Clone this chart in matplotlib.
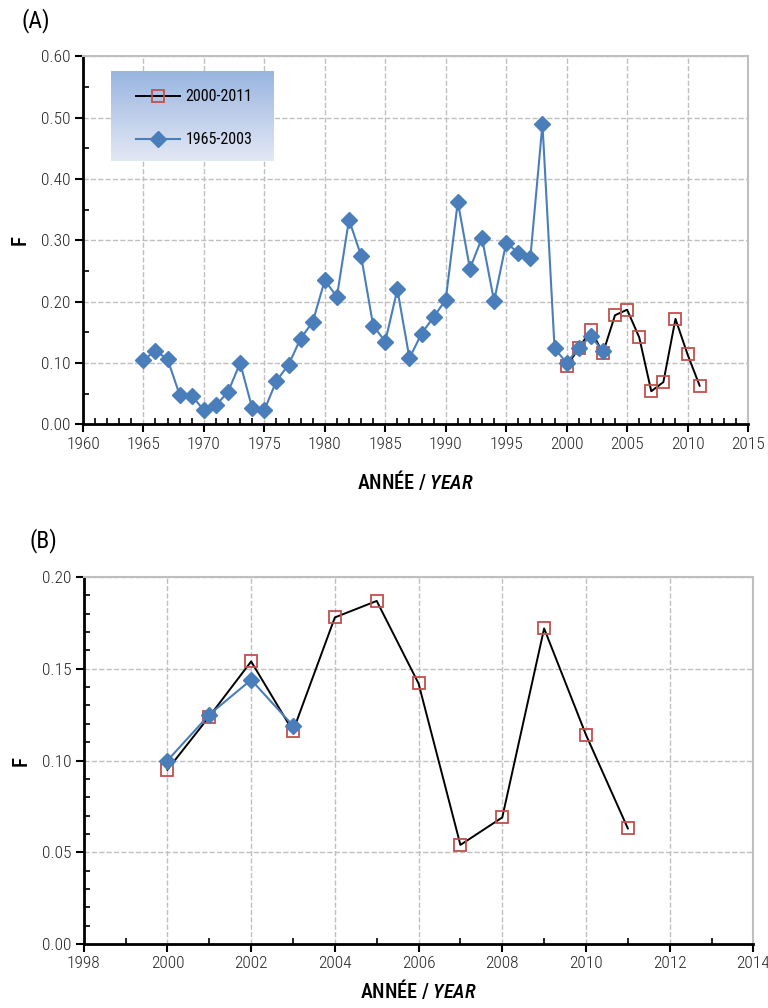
import numpy as np
import matplotlib
matplotlib.use("Agg")
import matplotlib.pyplot as plt
from matplotlib import font_manager
from matplotlib.ticker import MultipleLocator, FormatStrFormatter

# pick a narrow sans if one is around
family = 'Liberation Sans'
for cand in ['Roboto Condensed', 'Liberation Sans Narrow', 'Liberation Sans']:
    try:
        font_manager.findfont(cand, fallback_to_default=False)
        family = cand
        break
    except Exception:
        pass

plt.rcParams['font.family'] = [family, 'DejaVu Sans']
plt.rcParams['mathtext.fontset'] = 'custom'
plt.rcParams['mathtext.rm'] = family
plt.rcParams['mathtext.it'] = family + ':italic:medium'

# F series 1965-2003 (blue) and 2000-2011 (red squares)
years_old = np.arange(1965, 2004)
f_old = [0.105, 0.120, 0.106, 0.048, 0.047, 0.023, 0.031, 0.053, 0.100, 0.026,
         0.023, 0.071, 0.097, 0.140, 0.167, 0.235, 0.208, 0.334, 0.275, 0.161,
         0.135, 0.220, 0.108, 0.148, 0.175, 0.203, 0.363, 0.254, 0.304, 0.201,
         0.296, 0.280, 0.272, 0.490, 0.124, 0.100, 0.125, 0.144, 0.119]
years_new = np.arange(2000, 2012)
f_new = [0.095, 0.124, 0.154, 0.116, 0.178, 0.187, 0.142, 0.054, 0.069, 0.172,
         0.114, 0.063]

blue = '#4a7ebb'
red = '#c0504d'
grid_col = '#bfbfbf'


def style_axes(ax):
    ax.set_facecolor('white')
    for s in ['top', 'right']:
        ax.spines[s].set_color(grid_col)
        ax.spines[s].set_linewidth(1.5)
    for s in ['left', 'bottom']:
        ax.spines[s].set_color('black')
        ax.spines[s].set_linewidth(2)
    ax.grid(True, which='major', color=grid_col, linestyle='--', linewidth=1)
    ax.set_axisbelow(True)
    ax.tick_params(which='major', direction='out', length=6, width=1.5,
                   labelsize=12.5, colors='black', labelcolor='#262626', pad=3)
    ax.tick_params(which='minor', direction='in', length=4, width=1.2)
    for lab in ax.get_xticklabels() + ax.get_yticklabels():
        lab.set_fontweight('light')
    ax.set_ylabel('F', fontsize=15, fontweight='medium', labelpad=8)
    ax.set_xlabel(r'ANNÉE / $\mathit{YEAR}$', fontsize=14.5,
                  fontweight='medium', labelpad=12)


def draw_series(ax, x_old, y_old):
    ax.plot(years_new, f_new, color='black', linewidth=1.4, marker='s',
            markersize=8.5, markerfacecolor='none', markeredgecolor=red,
            markeredgewidth=1.3, label='2000-2011', zorder=4)
    ax.plot(x_old, y_old, color=blue, linewidth=1.5, marker='D',
            markersize=8.3, markerfacecolor=blue, markeredgecolor=blue,
            label='1965-2003', zorder=5)


fig = plt.figure(figsize=(7.68, 10.08), dpi=100)

# ---- panel A: full series ----
axA = fig.add_axes([0.108, 0.579, 0.866, 0.365])
draw_series(axA, years_old, f_old)
axA.xaxis.set_major_locator(MultipleLocator(5))
axA.xaxis.set_minor_locator(MultipleLocator(1))
axA.yaxis.set_major_locator(MultipleLocator(0.1))
axA.yaxis.set_minor_locator(MultipleLocator(0.05))
axA.yaxis.set_major_formatter(FormatStrFormatter('%.2f'))

# gradient box behind the legend
grad = np.linspace(0, 1, 100).reshape(-1, 1)
top_c = np.array([0.60, 0.71, 0.88])
bot_c = np.array([0.89, 0.91, 0.96])
img = top_c[None, None, :] * (1 - grad[:, :, None]) + bot_c[None, None, :] * grad[:, :, None]
axA.imshow(img, extent=[0.042, 0.286, 0.717, 0.959], transform=axA.transAxes,
           aspect='auto', zorder=6)
axA.set_xlim(1960, 2015)
axA.set_ylim(0, 0.6)
style_axes(axA)
leg = axA.legend(loc='upper left', bbox_to_anchor=(0.058, 0.95), frameon=False,
                 fontsize=11.5, labelspacing=1.75, handlelength=2.75,
                 handletextpad=0.35)
leg.set_zorder(7)

fig.text(0.028, 0.980, '(A)', fontsize=17, ha='left', va='center')

# ---- panel B: 2000-2011 zoom ----
axB = fig.add_axes([0.109, 0.0635, 0.872, 0.364])
sel = years_old >= 2000
draw_series(axB, years_old[sel], np.array(f_old)[sel])
axB.set_xlim(1998, 2014)
axB.set_ylim(0, 0.2)
axB.xaxis.set_major_locator(MultipleLocator(2))
axB.xaxis.set_minor_locator(MultipleLocator(1))
axB.yaxis.set_major_locator(MultipleLocator(0.05))
axB.yaxis.set_minor_locator(MultipleLocator(0.01))
axB.yaxis.set_major_formatter(FormatStrFormatter('%.2f'))
style_axes(axB)
axB.xaxis.labelpad = 5

fig.text(0.038, 0.464, '(B)', fontsize=17, ha='left', va='center')

fig.savefig('out.png', dpi=100)
